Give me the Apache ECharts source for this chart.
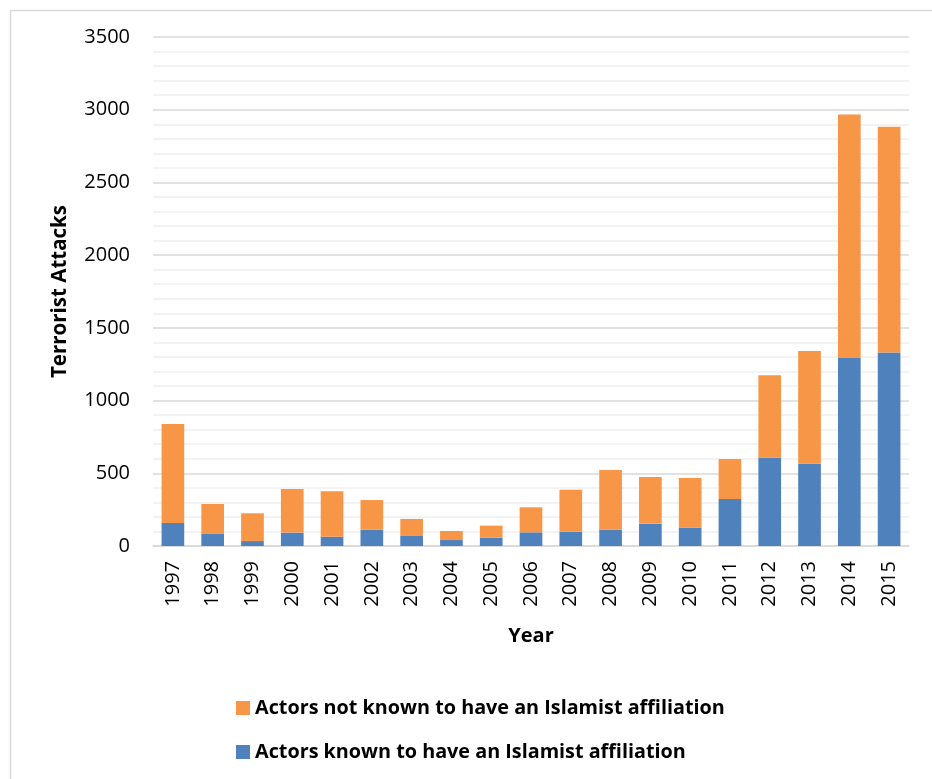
<!DOCTYPE html>
<html>
<head>
<meta charset="utf-8">
<script src="https://cdn.jsdelivr.net/npm/echarts@6/dist/echarts.min.js"></script>
<style>
  html, body { margin: 0; padding: 0; background: #ffffff; }
  #chart { width: 932px; height: 779px; }
</style>
</head>
<body>
<div id="chart"></div>
<script>
// Terrorist attacks per year, split by known Islamist affiliation
const years = ['1997','1998','1999','2000','2001','2002','2003','2004','2005','2006',
               '2007','2008','2009','2010','2011','2012','2013','2014','2015'];
// Attacks by actors known to have an Islamist affiliation
const islamist = [158, 83, 34, 92, 64, 112, 69, 41, 57, 94,
                  99, 112, 154, 126, 323, 608, 566, 1293, 1330];
// Attacks by actors not known to have an Islamist affiliation
const nonIslamist = [681, 206, 191, 300, 312, 204, 117, 62, 83, 172,
                     288, 411, 321, 342, 275, 566, 775, 1674, 1552];

const FONT = 'Open Sans';
const chart = echarts.init(document.getElementById('chart'), null, { renderer: 'canvas' });

chart.setOption({
  animation: false,
  backgroundColor: '#ffffff',
  textStyle: { fontFamily: FONT },
  graphic: [{
    type: 'rect',
    left: 8, top: 8,
    shape: { x: 0, y: 0, width: 960, height: 820 },
    style: { fill: 'none', stroke: '#d9d9d9', lineWidth: 1.5 },
    silent: true
  }],
  grid: { left: 153, right: 23, top: 37, bottom: 233, containLabel: false },
  legend: {
    orient: 'vertical',
    left: 231,
    top: 693,
    itemWidth: 14,
    itemHeight: 14,
    itemGap: 24,
    icon: 'rect',
    data: ['Actors not known to have an Islamist affiliation',
           'Actors known to have an Islamist affiliation'],
    textStyle: { fontFamily: FONT, fontSize: 19.8, fontWeight: 'bold', color: '#000000' }
  },
  xAxis: {
    type: 'category',
    data: years,
    name: 'Year',
    nameLocation: 'middle',
    nameGap: 80,
    nameTextStyle: { fontFamily: FONT, fontSize: 20, fontWeight: 'bold', color: '#000000' },
    axisLine: { lineStyle: { color: '#d9d9d9', width: 1.5 } },
    axisTick: { show: false },
    axisLabel: { rotate: 90, fontSize: 20, color: '#000000', margin: 15, fontFamily: FONT }
  },
  yAxis: {
    type: 'value',
    min: 0, max: 3500, interval: 500,
    name: 'Terrorist Attacks',
    nameLocation: 'middle',
    nameGap: 82,
    nameTextStyle: { fontFamily: FONT, fontSize: 20.5, fontWeight: 'bold', color: '#000000' },
    axisLine: { show: false },
    axisTick: { show: false },
    axisLabel: {
      fontSize: 20, color: '#000000', margin: 23, fontFamily: FONT,
      formatter: (v) => String(v)
    },
    splitLine: { show: true, lineStyle: { color: '#d9d9d9', width: 1.5 } },
    minorTick: { show: false, splitNumber: 5 },
    minorSplitLine: { show: true, lineStyle: { color: '#f0f0f0', width: 1.5 } }
  },
  series: [
    {
      name: 'Actors known to have an Islamist affiliation',
      type: 'bar',
      stack: 'total',
      barWidth: '57%',
      data: islamist,
      itemStyle: { color: '#4f81bd' }
    },
    {
      name: 'Actors not known to have an Islamist affiliation',
      type: 'bar',
      stack: 'total',
      barWidth: '57%',
      data: nonIslamist,
      itemStyle: { color: '#f79646' }
    }
  ]
});
</script>
</body>
</html>
